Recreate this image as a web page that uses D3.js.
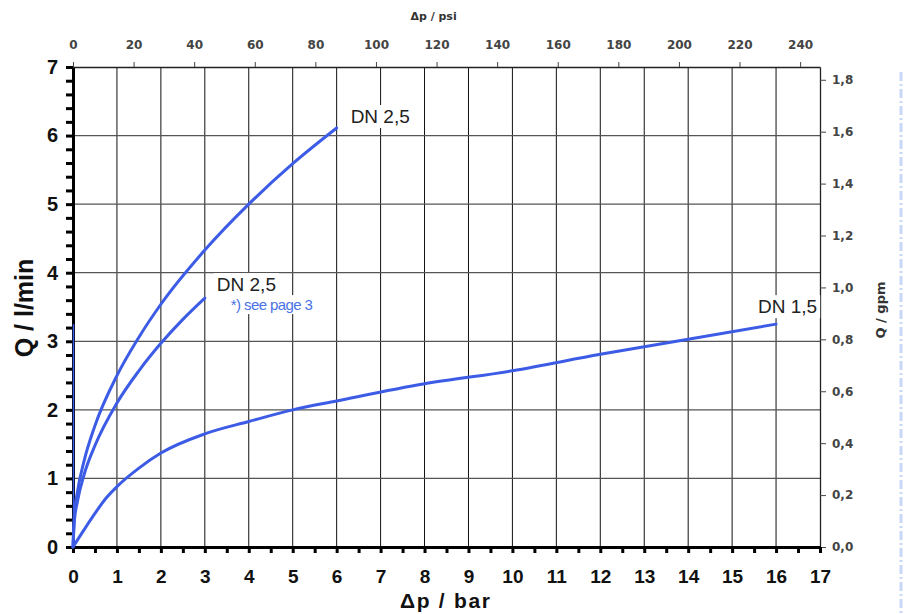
<!DOCTYPE html>
<html>
<head>
<meta charset="utf-8">
<script src="https://cdn.jsdelivr.net/npm/d3@7"></script>
<style>
  body { margin: 0; background: #fff; }
  svg { display: block; font-family: "Liberation Sans", Arial, sans-serif; }
</style>
</head>
<body>
<div id="chart"></div>
<script>
// axis ticks
const barTicks = d3.range(0, 18);           // Δp / bar
const lminTicks = d3.range(0, 8);           // Q / l/min
const psiTicks = d3.range(0, 260, 20);      // Δp / psi
const gpmTicks = [0, 0.2, 0.4, 0.6, 0.8, 1.0, 1.2, 1.4, 1.6, 1.8]; // Q / gpm

// curves
const dn25upperBar = [0, 0.03, 0.1, 0.25, 0.5, 1, 1.5, 2, 3, 4, 5, 6];
const dn25upperQ   = [0, 0.45, 0.8, 1.25, 1.77, 2.5, 3.06, 3.54, 4.33, 5.0, 5.59, 6.11];
const dn25lowerBar = [0, 0.03, 0.1, 0.25, 0.5, 1, 1.5, 2, 2.5, 3];
const dn25lowerQ   = [0, 0.37, 0.66, 1.05, 1.48, 2.1, 2.57, 2.97, 3.32, 3.63];
const dn15Bar = [0, 0.25, 0.5, 0.75, 1, 1.5, 2, 3, 4, 5, 6, 8, 10, 12, 14, 16];
const dn15Q   = [0, 0.25, 0.49, 0.71, 0.88, 1.15, 1.37, 1.65, 1.83, 2.0, 2.13, 2.38, 2.57, 2.81, 3.03, 3.25];

const W = 904, H = 614;
const FONT = "Liberation Sans, Arial, sans-serif";
const FONT2 = "DejaVu Sans, Verdana, sans-serif";
const svg = d3.select("#chart").append("svg")
    .attr("width", W).attr("height", H);

const x = d3.scaleLinear().domain([0, 17]).range([73, 820]);
const y = d3.scaleLinear().domain([0, 7]).range([547, 67]);
const xPsi = d3.scaleLinear().domain([0, 17 * 14.5038]).range([73, 820]);
const yGpm = d3.scaleLinear().domain([0, 7 * 0.264172]).range([547, 67]);

// vertical grid
svg.append("g").selectAll("line").data(barTicks.slice(1, -1)).join("line")
    .attr("x1", d => x(d)).attr("x2", d => x(d))
    .attr("y1", y(7)).attr("y2", y(0))
    .attr("stroke", "#111").attr("stroke-width", 1);

// horizontal grid
svg.append("g").selectAll("line").data(lminTicks.slice(1, -1)).join("line")
    .attr("x1", x(0)).attr("x2", x(17))
    .attr("y1", d => y(d)).attr("y2", d => y(d))
    .attr("stroke", "#555").attr("stroke-width", 1.3);

// top frame + psi axis
const topAxis = svg.append("g").attr("transform", `translate(0,${y(7)})`)
    .call(d3.axisTop(xPsi).tickValues(psiTicks).tickSize(5).tickSizeOuter(0))
    .attr("font-family", FONT2);
topAxis.select(".domain").attr("stroke", "#222").attr("stroke-width", 1.3);
topAxis.selectAll(".tick line").attr("stroke", "#444");
topAxis.selectAll("text").attr("fill", "#444").style("font-size", "12px")
    .style("font-weight", "bold").attr("y", -18).attr("dy", 0);

// right frame + gpm axis
const rightAxis = svg.append("g").attr("transform", `translate(${x(17)},0)`)
    .call(d3.axisRight(yGpm).tickValues(gpmTicks).tickSize(6).tickSizeOuter(0)
        .tickFormat(d => d3.format(".1f")(d).replace(".", ",")))
    .attr("font-family", FONT2);
rightAxis.select(".domain").attr("stroke", "#222").attr("stroke-width", 1.3);
rightAxis.selectAll(".tick line").attr("stroke", "#444");
rightAxis.selectAll("text").attr("fill", "#444").style("font-size", "12px")
    .style("font-weight", "bold").attr("x", 12);

// left axis (thick, minor ticks)
const leftAxis = svg.append("g").attr("transform", `translate(${x(0)},0)`);
leftAxis.call(d3.axisLeft(y).tickValues(d3.range(0, 7.01, 0.2)).tickSize(7).tickSizeOuter(0)
    .tickFormat(d => Math.abs(d - Math.round(d)) < 1e-6 ? d3.format("d")(Math.round(d)) : ""))
    .attr("font-family", FONT);
leftAxis.select(".domain").attr("stroke", "#000").attr("stroke-width", 3);
leftAxis.selectAll(".tick line").attr("stroke", "#000").attr("stroke-width", 3);
leftAxis.selectAll("text").attr("fill", "#111").style("font-size", "20px")
    .style("font-weight", "bold").attr("x", -15);

// bottom axis (thick, half ticks)
const bottomAxis = svg.append("g").attr("transform", `translate(0,${y(0)})`);
bottomAxis.call(d3.axisBottom(x).tickValues(d3.range(0, 17.01, 0.5)).tickSize(6).tickSizeOuter(0)
    .tickFormat(d => Number.isInteger(d) ? d3.format("d")(d) : ""))
    .attr("font-family", FONT);
bottomAxis.select(".domain").attr("stroke", "#000").attr("stroke-width", 3);
bottomAxis.selectAll(".tick line").attr("stroke", "#000").attr("stroke-width", 3);
bottomAxis.selectAll("text").attr("fill", "#111").style("font-size", "19px")
    .style("font-weight", "bold").attr("y", 23);

// thin blue line along the y axis
svg.append("line")
    .attr("x1", x(0) + 0.5).attr("x2", x(0) + 0.5)
    .attr("y1", y(0)).attr("y2", y(d3.max(dn15Q)))
    .attr("stroke", "#3d5ce6").attr("stroke-width", 1.5);

// curves
const line = d3.line().curve(d3.curveMonotoneX)
    .x(d => x(d[0])).y(d => y(d[1]));
const curves = [
    d3.zip(dn25upperBar, dn25upperQ),
    d3.zip(dn25lowerBar, dn25lowerQ),
    d3.zip(dn15Bar, dn15Q)
];
svg.append("g").selectAll("path").data(curves).join("path")
    .attr("d", line)
    .attr("fill", "none")
    .attr("stroke", "#3d5ce6")
    .attr("stroke-width", 3)
    .attr("stroke-linecap", "round");

// labels with white boxes
function boxedLabel(tx, ty, txt, size, color) {
    const g = svg.append("g");
    const t = g.append("text").attr("x", tx).attr("y", ty)
        .text(txt).attr("fill", color).style("font-size", size + "px");
    const b = t.node().getBBox();
    g.insert("rect", "text")
        .attr("x", b.x - 3).attr("y", b.y - 1)
        .attr("width", b.width + 6).attr("height", b.height + 2)
        .attr("fill", "#fff");
    return t;
}
boxedLabel(x(6) + 14, y(6.11) - 5, "DN 2,5", 19, "#222");
boxedLabel(x(3) + 12, y(3.63) - 7, "DN 2,5", 19, "#222");
boxedLabel(x(3) + 26, y(3.63) + 12, "*) see page 3", 15, "#4a72e6").style("letter-spacing", "-0.6px");
boxedLabel(x(16) - 18, y(3.25) - 11, "DN 1,5", 19, "#222");

// axis titles
svg.append("text")
    .attr("transform", `translate(33,${y(3.5) + 1}) rotate(-90)`)
    .attr("text-anchor", "middle")
    .style("font-size", "25px").style("font-weight", "bold").attr("fill", "#111")
    .text("Q / l/min");
svg.append("text")
    .attr("x", 445).attr("y", 608)
    .attr("text-anchor", "middle")
    .attr("textLength", 90).attr("lengthAdjust", "spacing")
    .style("font-size", "21px").style("font-weight", "bold").attr("fill", "#111")
    .text("Δp / bar");
svg.append("text")
    .attr("x", xPsi(120) - 3).attr("y", 20)
    .attr("text-anchor", "middle").attr("font-family", FONT2)
    .style("font-size", "11px").style("font-weight", "bold").attr("fill", "#333")
    .text("Δp / psi");
svg.append("text")
    .attr("transform", `translate(885,310) rotate(-90)`)
    .attr("text-anchor", "middle").attr("font-family", FONT2)
    .style("font-size", "13px").style("font-weight", "bold").attr("fill", "#333")
    .text("Q / gpm");

// decorative dash-dot line at the page edge
svg.append("line")
    .attr("x1", 901).attr("x2", 901).attr("y1", 72).attr("y2", H)
    .attr("stroke", "#c9d8f7").attr("stroke-width", 3)
    .attr("stroke-dasharray", "9,3,2,3");
</script>
</body>
</html>
